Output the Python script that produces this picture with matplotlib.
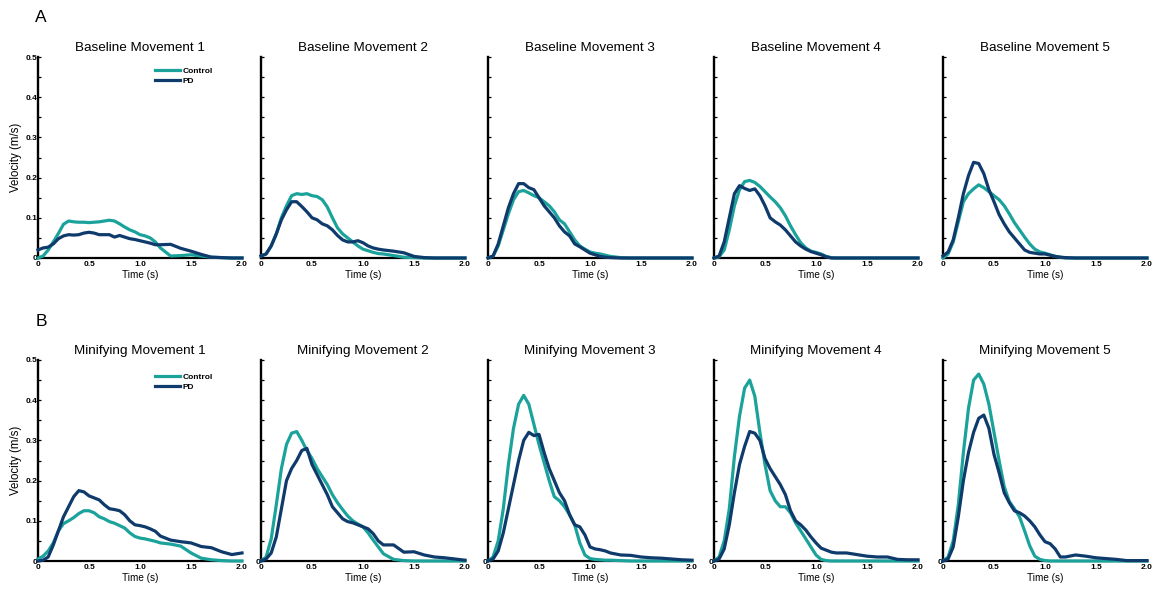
import matplotlib
matplotlib.use("Agg")
import matplotlib.pyplot as plt

plt.rcParams['font.family'] = ['Liberation Sans', 'DejaVu Sans']

# ---------------- data ----------------
T = [0.00, 0.05, 0.10, 0.15, 0.20, 0.25, 0.30, 0.35, 0.40, 0.45, 0.50, 0.55,
     0.60, 0.65, 0.70, 0.75, 0.80, 0.85, 0.90, 0.95, 1.00, 1.05, 1.10, 1.15,
     1.20, 1.30, 1.40, 1.50, 1.60, 1.70, 1.80, 1.90, 2.00]

base_titles = ["Baseline Movement 1", "Baseline Movement 2", "Baseline Movement 3",
               "Baseline Movement 4", "Baseline Movement 5"]
mini_titles = ["Minifying Movement 1", "Minifying Movement 2", "Minifying Movement 3",
               "Minifying Movement 4", "Minifying Movement 5"]
series_names = ["Control", "PD"]
x_ticks = [0, 0.5, 1.0, 1.5, 2.0]
x_tick_labels = ["0", "0.5", "1.0", "1.5", "2.0"]
y_ticks = [0, 0.05, 0.1, 0.15, 0.2, 0.25, 0.3, 0.35, 0.4, 0.45, 0.5]
y_tick_labels = ["0", "", "0.1", "", "0.2", "", "0.3", "", "0.4", "", "0.5"]

# Baseline (row A)
base_ctrl_1 = [0, .005, .02, .04, .061, .084, .092, .09, .089, .089, .088, .089, .09, .092, .094, .092, .085, .077, .07, .065, .058, .055, .05, .04, .025, .005, .006, .008, .005, .002, .001, 0, 0]
base_pd_1 = [.02, .025, .027, .035, .048, .055, .058, .057, .058, .062, .064, .062, .058, .058, .058, .052, .056, .052, .048, .046, .043, .04, .037, .033, .033, .034, .024, .017, .009, .002, .001, 0, 0]
base_ctrl_2 = [.005, .01, .03, .06, .1, .13, .155, .16, .158, .16, .155, .153, .145, .127, .1, .075, .06, .05, .04, .03, .022, .018, .014, .011, .01, .006, .002, .001, 0, 0, 0, 0, 0]
base_pd_2 = [.005, .01, .03, .06, .095, .12, .14, .14, .128, .115, .1, .095, .085, .08, .07, .056, .045, .04, .04, .043, .038, .03, .025, .022, .02, .017, .013, .004, .001, 0, 0, 0, 0]
base_ctrl_3 = [0, .005, .03, .07, .11, .145, .165, .168, .162, .155, .15, .14, .13, .115, .095, .085, .065, .045, .03, .022, .015, .012, .01, .007, .004, .001, 0, 0, 0, 0, 0, 0, 0]
base_pd_3 = [0, .005, .035, .08, .125, .16, .185, .185, .175, .17, .15, .13, .115, .1, .08, .065, .055, .035, .028, .02, .012, .008, .004, .002, .001, 0, 0, 0, 0, 0, 0, 0, 0]
base_ctrl_4 = [0, .003, .02, .07, .13, .17, .19, .193, .188, .178, .165, .152, .14, .125, .105, .08, .058, .038, .025, .017, .014, .01, .004, .001, 0, 0, 0, 0, 0, 0, 0, 0, 0]
base_pd_4 = [0, .005, .04, .1, .16, .18, .173, .168, .172, .155, .13, .1, .09, .082, .07, .055, .04, .03, .022, .016, .012, .008, .003, 0, 0, 0, 0, 0, 0, 0, 0, 0, 0]
base_ctrl_5 = [0, .01, .04, .09, .14, .16, .172, .182, .175, .165, .155, .145, .13, .11, .088, .07, .052, .035, .022, .015, .012, .008, .004, .002, 0, 0, 0, 0, 0, 0, 0, 0, 0]
base_pd_5 = [.005, .015, .045, .1, .16, .205, .238, .235, .21, .17, .14, .108, .085, .065, .05, .035, .02, .014, .012, .01, .01, .007, .004, .002, .001, 0, 0, 0, 0, 0, 0, 0, 0]

# Minifying (row B)
mini_ctrl_1 = [.005, .012, .025, .045, .075, .093, .1, .108, .118, .125, .125, .12, .11, .105, .098, .094, .088, .082, .07, .061, .057, .055, .052, .049, .045, .042, .037, .02, .007, .003, .001, 0, 0]
mini_pd_1 = [0, .002, .01, .04, .075, .11, .135, .16, .175, .172, .162, .157, .152, .14, .13, .128, .125, .115, .1, .09, .088, .085, .08, .074, .062, .052, .048, .045, .036, .033, .023, .016, .02]
mini_ctrl_2 = [0, .01, .055, .14, .23, .29, .318, .322, .3, .275, .255, .23, .21, .19, .165, .145, .128, .112, .1, .092, .085, .07, .052, .035, .018, .004, .001, 0, 0, 0, 0, 0, 0]
mini_pd_2 = [0, .005, .02, .06, .13, .2, .23, .25, .275, .28, .24, .215, .19, .165, .135, .12, .105, .098, .095, .09, .085, .08, .068, .05, .04, .04, .022, .023, .015, .01, .008, .005, .002]
mini_ctrl_3 = [0, .01, .05, .13, .24, .33, .39, .412, .39, .34, .29, .245, .2, .16, .15, .135, .115, .09, .045, .015, .006, .004, .003, .002, .002, .001, 0, 0, 0, 0, 0, 0, 0]
mini_pd_3 = [0, .005, .025, .07, .13, .19, .25, .3, .32, .312, .315, .27, .23, .2, .17, .15, .115, .09, .085, .065, .035, .03, .028, .025, .02, .015, .014, .01, .008, .007, .005, .003, .002]
mini_ctrl_4 = [0, .01, .05, .13, .26, .36, .43, .45, .41, .32, .24, .175, .15, .135, .135, .12, .095, .075, .055, .035, .015, .004, .001, 0, 0, 0, 0, 0, 0, 0, 0, 0, 0]
mini_pd_4 = [0, .005, .03, .09, .17, .24, .285, .322, .318, .3, .255, .23, .21, .19, .165, .125, .1, .09, .077, .06, .045, .032, .027, .022, .02, .02, .016, .012, .01, .01, .004, .003, .003]
mini_ctrl_5 = [0, .01, .05, .14, .27, .38, .45, .465, .44, .39, .32, .25, .185, .148, .13, .11, .075, .038, .012, .004, .001, 0, 0, 0, 0, 0, 0, 0, 0, 0, 0, 0, 0]
mini_pd_5 = [0, .005, .035, .11, .2, .27, .32, .355, .363, .33, .265, .22, .17, .145, .125, .12, .112, .1, .085, .065, .048, .043, .03, .01, .01, .015, .012, .008, .006, .004, .001, .001, .001]

base_ctrl = [base_ctrl_1, base_ctrl_2, base_ctrl_3, base_ctrl_4, base_ctrl_5]
base_pd = [base_pd_1, base_pd_2, base_pd_3, base_pd_4, base_pd_5]
mini_ctrl = [mini_ctrl_1, mini_ctrl_2, mini_ctrl_3, mini_ctrl_4, mini_ctrl_5]
mini_pd = [mini_pd_1, mini_pd_2, mini_pd_3, mini_pd_4, mini_pd_5]

# ---------------- style ----------------
C_CTRL = "#1BA39B"
C_PD = "#0E3A6C"
W, H = 1158, 590
fig = plt.figure(figsize=(W / 100, H / 100), dpi=100)

lefts_px = [38, 261, 488, 714, 943]
ax_w_px = 204
ax_h_px = 201
row_bottom_px = [258, 561]

rows = [(base_titles, base_ctrl, base_pd), (mini_titles, mini_ctrl, mini_pd)]

for r, (titles, ctrls, pds) in enumerate(rows):
    for c in range(5):
        ax = fig.add_axes([lefts_px[c] / W, 1 - row_bottom_px[r] / H,
                           ax_w_px / W, ax_h_px / H])
        l1, = ax.plot(T, ctrls[c], color=C_CTRL, lw=2.3, clip_on=False,
                      zorder=3, solid_joinstyle='round', label=series_names[0])
        l2, = ax.plot(T, pds[c], color=C_PD, lw=2.3, clip_on=False,
                      zorder=4, solid_joinstyle='round', label=series_names[1])
        ax.set_xlim(0, 2.0)
        ax.set_ylim(0, 0.5)
        for s in ["top", "right"]:
            ax.spines[s].set_visible(False)
        ax.spines["left"].set_linewidth(1.7)
        ax.spines["bottom"].set_linewidth(1.6)
        ax.spines["left"].set_zorder(2)
        ax.spines["bottom"].set_zorder(2)
        ax.set_xticks(x_ticks)
        ax.set_xticklabels(x_tick_labels, fontsize=6, fontweight='bold')
        ax.tick_params(axis='x', length=0, pad=2.5)
        ax.set_yticks(y_ticks)
        if c == 0:
            ax.set_yticklabels(y_tick_labels, fontsize=6, fontweight='bold')
        elif r == 1:
            ax.set_yticklabels(["0"] + [""] * 10, fontsize=6, fontweight='bold')
        else:
            ax.set_yticklabels([""] * 11)
        ax.tick_params(axis='y', direction='in', length=2.5, width=0.9, pad=0.3)
        ax.set_title(titles[c], fontsize=9.7, pad=4)
        ax.set_xlabel("Time (s)", fontsize=7.2, labelpad=1)
        ax.patch.set_alpha(0)
        if c == 0:
            ax.set_ylabel("Velocity (m/s)", fontsize=8.3, labelpad=3)
            ytop = 0.95 if r == 0 else 0.935
            ax.legend(handles=[l1, l2], loc='upper left',
                      bbox_to_anchor=(0.574, ytop), frameon=False,
                      borderpad=0, borderaxespad=0, handlelength=3.0,
                      handletextpad=0.25, labelspacing=0.3,
                      prop={'size': 6, 'weight': 'bold'})

fig.text(41 / W, 1 - 18 / H, "A", fontsize=12.5, ha='center', va='center')
fig.text(41 / W, 1 - 322 / H, "B", fontsize=12.5, ha='center', va='center')

fig.savefig("out.png", dpi=100)
